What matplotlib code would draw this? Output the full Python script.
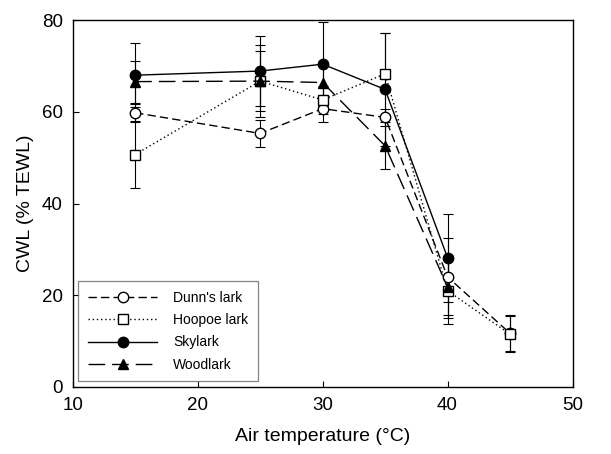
import matplotlib

matplotlib.use("Agg")
import matplotlib.pyplot as plt

plt.rcParams["font.family"] = ["Liberation Sans", "DejaVu Sans"]

temps_dunn = [15, 25, 30, 35, 40, 45]
cwl_dunn = [59.8, 55.3, 60.7, 58.8, 24.0, 11.7]
sd_dunn = [2.0, 3.0, 2.9, 1.9, 8.4, 3.9]

temps_hoopoe = [15, 25, 30, 35, 40, 45]
cwl_hoopoe = [50.7, 66.7, 62.6, 68.3, 21.0, 11.5]
sd_hoopoe = [7.4, 7.8, 3.0, 9.0, 7.3, 3.9]

temps_sky = [15, 25, 30, 35, 40]
cwl_sky = [68.0, 68.9, 70.4, 64.9, 28.2]
sd_sky = [7.0, 7.6, 9.2, 12.3, 9.6]

temps_wood = [15, 25, 30, 35, 40]
cwl_wood = [66.6, 66.7, 66.4, 52.6, 21.8]
sd_wood = [4.6, 6.5, 4.0, 5.1, 6.8]

x_ticks = [10, 20, 30, 40, 50]
y_ticks = [0, 20, 40, 60, 80]

fig = plt.figure(figsize=(6.11, 4.54), dpi=100)
ax = fig.add_axes([0.119, 0.1476, 0.818, 0.808])

series = [
    ("Dunn's lark", temps_dunn, cwl_dunn, sd_dunn,
     dict(marker="o", mfc="white", ls=(0, (6, 3)))),
    ("Hoopoe lark", temps_hoopoe, cwl_hoopoe, sd_hoopoe,
     dict(marker="s", mfc="white", ls=(0, (1, 2)))),
    ("Skylark", temps_sky, cwl_sky, sd_sky,
     dict(marker="o", mfc="black", ls="-")),
    ("Woodlark", temps_wood, cwl_wood, sd_wood,
     dict(marker="^", mfc="black", ls=(0, (12, 5)))),
]

for name, xs, ys, err, style in series:
    ax.errorbar(xs, ys, yerr=err, fmt="none", ecolor="black", elinewidth=0.8,
                capsize=3.5, capthick=0.8, zorder=2)
    ax.plot(xs, ys, color="black", lw=1.0, ls=style["ls"], marker=style["marker"],
            ms=7.5 if style["marker"] != "s" else 7, mfc=style["mfc"], mec="black",
            mew=1.0, label=name, zorder=3)

ax.set_xlim(10, 50)
ax.set_ylim(0, 80)
ax.set_xticks(x_ticks)
ax.set_yticks(y_ticks)
ax.tick_params(direction="in", length=4, width=0.8, labelsize=13.5, pad=7,
               top=False, right=False)
for spine in ax.spines.values():
    spine.set_linewidth(1.0)

ax.set_xlabel("Air temperature (\u00b0C)", fontsize=14, labelpad=10)
ax.set_ylabel("CWL (% TEWL)", fontsize=14, labelpad=6)

leg = ax.legend(loc="lower left", fontsize=10, frameon=True, fancybox=False,
                handlelength=5.0, handletextpad=1.15, borderpad=0.7,
                labelspacing=0.6, borderaxespad=0.4)
leg.get_frame().set_edgecolor("#666666")
leg.get_frame().set_linewidth(0.9)

fig.savefig("out.png", dpi=100)
